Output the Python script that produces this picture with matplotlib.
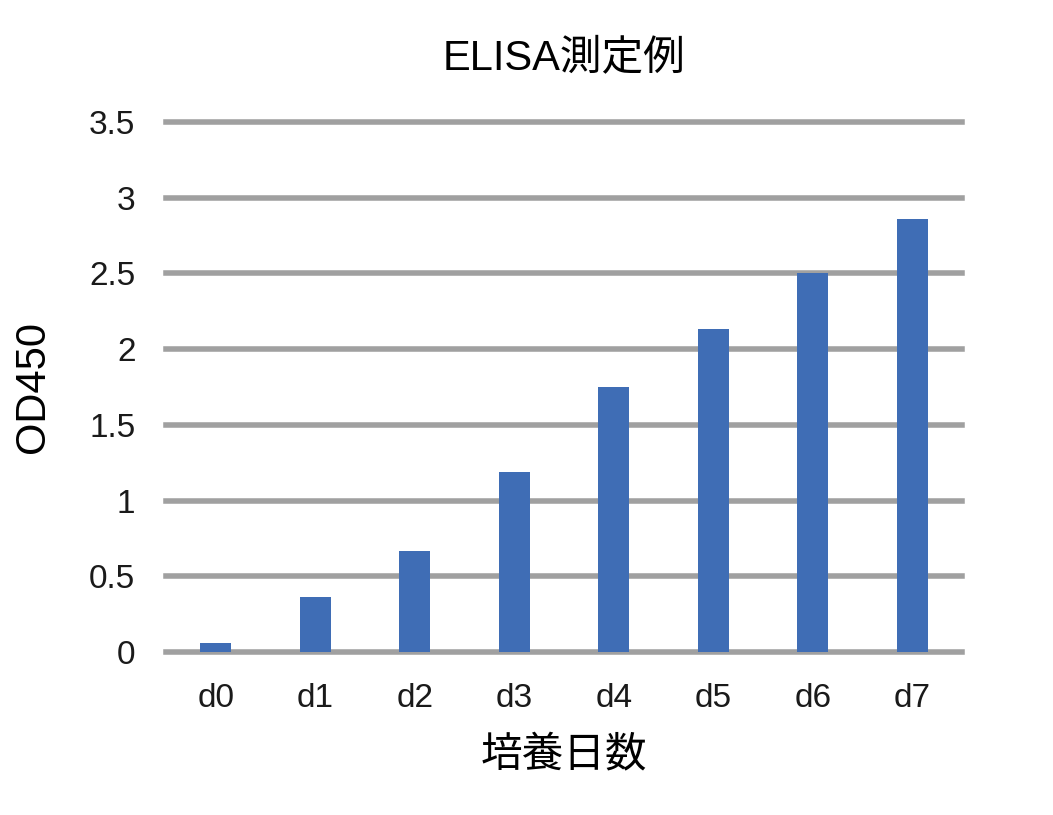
import matplotlib.pyplot as plt

plt.rcParams['font.family'] = ['Liberation Sans', 'Noto Sans CJK JP', 'DejaVu Sans']

days = ['d0', 'd1', 'd2', 'd3', 'd4', 'd5', 'd6', 'd7']
od450 = [0.06, 0.36, 0.67, 1.19, 1.75, 2.13, 2.50, 2.86]

fig = plt.figure(figsize=(10.53, 8.15), dpi=100)
ax = fig.add_axes([166/1053, 1 - 652/815, (962-166)/1053, (652-122)/815])

x = range(len(days))
ax.bar(x, od450, width=0.31, color='#3f6db5', zorder=3)

ax.set_ylim(0, 3.5)
ax.set_xlim(-0.5, len(days) - 0.5)
ax.set_yticks([0, 0.5, 1, 1.5, 2, 2.5, 3, 3.5])
ax.set_yticklabels(['0', '0.5', '1', '1.5', '2', '2.5', '3', '3.5'])
ax.set_xticks(list(x))
ax.set_xticklabels(days)
ax.yaxis.grid(True, color='#a0a0a0', linewidth=4, zorder=0)
for gl in ax.get_ygridlines():
    gl.set_clip_on(False)
ax.set_axisbelow(True)
for s in ax.spines.values():
    s.set_visible(False)
ax.tick_params(length=0, labelsize=24, colors='#1a1a1a')
ax.tick_params(axis='x', pad=22)
ax.tick_params(axis='y', pad=22)

ax.set_title('ELISA測定例', fontsize=30, pad=38)
ax.set_xlabel('培養日数', fontsize=30, labelpad=16)
ax.set_ylabel('OD450', fontsize=30, labelpad=26)

fig.savefig('out.png')
